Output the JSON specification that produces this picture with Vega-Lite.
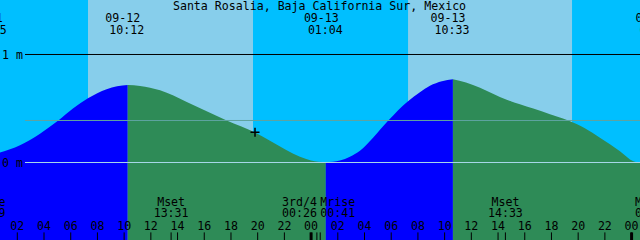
{
  "$schema": "https://vega.github.io/schema/vega-lite/v6.json",
  "width": 640,
  "height": 240,
  "autosize": {"type": "none"},
  "padding": 0,
  "background": "#00BFFF",
  "config": {
    "view": {"stroke": null, "fill": "#00BFFF"},
    "text": {"font": "DejaVu Sans Mono", "fontSize": 11.6, "color": "#000000"}
  },
  "datasets": {
    "days": [
      {"h": 7.294, "h2": 19.65},
      {"h": 31.26, "h2": 43.54}
    ],
    "tide": [
      {"seg": "r1", "phase": "rising", "h": 0.704, "m": 0.093},
      {"seg": "r1", "phase": "rising", "h": 2.2, "m": 0.16},
      {"seg": "r1", "phase": "rising", "h": 3.7, "m": 0.267},
      {"seg": "r1", "phase": "rising", "h": 5.07, "m": 0.389},
      {"seg": "r1", "phase": "rising", "h": 6.19, "m": 0.503},
      {"seg": "r1", "phase": "rising", "h": 7.29, "m": 0.594},
      {"seg": "r1", "phase": "rising", "h": 8.69, "m": 0.678},
      {"seg": "r1", "phase": "rising", "h": 9.47, "m": 0.705},
      {"seg": "r1", "phase": "rising", "h": 10.27, "m": 0.718},
      {"seg": "f1", "phase": "falling", "h": 10.27, "m": 0.718},
      {"seg": "f1", "phase": "falling", "h": 11.19, "m": 0.709},
      {"seg": "f1", "phase": "falling", "h": 12.69, "m": 0.669},
      {"seg": "f1", "phase": "falling", "h": 14.69, "m": 0.561},
      {"seg": "f1", "phase": "falling", "h": 16.06, "m": 0.482},
      {"seg": "f1", "phase": "falling", "h": 17.68, "m": 0.389},
      {"seg": "f1", "phase": "falling", "h": 19.8, "m": 0.278},
      {"seg": "f1", "phase": "falling", "h": 20.92, "m": 0.202},
      {"seg": "f1", "phase": "falling", "h": 22.17, "m": 0.114},
      {"seg": "f1", "phase": "falling", "h": 23.17, "m": 0.053},
      {"seg": "f1", "phase": "falling", "h": 23.99, "m": 0.019},
      {"seg": "f1", "phase": "falling", "h": 25.1, "m": 0.002},
      {"seg": "r2", "phase": "rising", "h": 25.1, "m": 0.002},
      {"seg": "r2", "phase": "rising", "h": 26.16, "m": 0.019},
      {"seg": "r2", "phase": "rising", "h": 26.91, "m": 0.054},
      {"seg": "r2", "phase": "rising", "h": 27.66, "m": 0.109},
      {"seg": "r2", "phase": "rising", "h": 28.64, "m": 0.23},
      {"seg": "r2", "phase": "rising", "h": 29.78, "m": 0.389},
      {"seg": "r2", "phase": "rising", "h": 31.26, "m": 0.568},
      {"seg": "r2", "phase": "rising", "h": 32.15, "m": 0.651},
      {"seg": "r2", "phase": "rising", "h": 32.9, "m": 0.711},
      {"seg": "r2", "phase": "rising", "h": 33.8, "m": 0.753},
      {"seg": "r2", "phase": "rising", "h": 34.62, "m": 0.771},
      {"seg": "f2", "phase": "falling", "h": 34.62, "m": 0.771},
      {"seg": "f2", "phase": "falling", "h": 35.6, "m": 0.741},
      {"seg": "f2", "phase": "falling", "h": 36.65, "m": 0.693},
      {"seg": "f2", "phase": "falling", "h": 37.62, "m": 0.637},
      {"seg": "f2", "phase": "falling", "h": 38.65, "m": 0.581},
      {"seg": "f2", "phase": "falling", "h": 39.64, "m": 0.54},
      {"seg": "f2", "phase": "falling", "h": 40.64, "m": 0.5},
      {"seg": "f2", "phase": "falling", "h": 41.89, "m": 0.447},
      {"seg": "f2", "phase": "falling", "h": 43.26, "m": 0.389},
      {"seg": "f2", "phase": "falling", "h": 44.5, "m": 0.318},
      {"seg": "f2", "phase": "falling", "h": 45.63, "m": 0.23},
      {"seg": "f2", "phase": "falling", "h": 47.13, "m": 0.105},
      {"seg": "f2", "phase": "falling", "h": 48.13, "m": 0.012},
      {"seg": "f2", "phase": "falling", "h": 48.63, "m": -0.002}
    ],
    "levels": [
      {"kind": "top", "h": 2.576, "h2": 48.63, "m": 1},
      {"kind": "msl", "h": 2.576, "h2": 48.63, "m": 0.389},
      {"kind": "datum", "h": 2.576, "h2": 48.63, "m": 0}
    ],
    "levelLabels": [
      {"m": 1, "label": "1 m"},
      {"m": 0, "label": "0 m"}
    ],
    "hilo": [
      {"h": -0.1, "date": "09-11", "time": "23:55"},
      {"h": 10.2, "date": "09-12", "time": "10:12"},
      {"h": 25.067, "date": "09-13", "time": "01:04"},
      {"h": 34.55, "date": "09-13", "time": "10:33"},
      {"h": 49.9, "date": "09-14", "time": "01:52"}
    ],
    "moon": [
      {"h": -0.183, "ev": "Mrise", "time": "23:49"},
      {"h": 13.517, "ev": "Mset", "time": "13:31"},
      {"h": 24.433, "ev": "3rd/4", "time": "00:26"},
      {"h": 24.683, "ev": "Mrise", "time": "00:41"},
      {"h": 38.55, "ev": "Mset", "time": "14:33"},
      {"h": 49.57, "ev": "Mrise", "time": "01:34"}
    ],
    "hours": [
      {"h": 2, "lab": "02"}, {"h": 4, "lab": "04"}, {"h": 6, "lab": "06"}, {"h": 8, "lab": "08"},
      {"h": 10, "lab": "10"}, {"h": 12, "lab": "12"}, {"h": 14, "lab": "14"}, {"h": 16, "lab": "16"},
      {"h": 18, "lab": "18"}, {"h": 20, "lab": "20"}, {"h": 22, "lab": "22"}, {"h": 24, "lab": "00"},
      {"h": 26, "lab": "02"}, {"h": 28, "lab": "04"}, {"h": 30, "lab": "06"}, {"h": 32, "lab": "08"},
      {"h": 34, "lab": "10"}, {"h": 36, "lab": "12"}, {"h": 38, "lab": "14"}, {"h": 40, "lab": "16"},
      {"h": 42, "lab": "18"}, {"h": 44, "lab": "20"}, {"h": 46, "lab": "22"}, {"h": 48, "lab": "00"}
    ],
    "now": [
      {"h": 19.8, "m": 0.281}
    ],
    "titleText": [
      {"label": "Santa Rosalia, Baja California Sur, Mexico"}
    ]
  },
  "layer": [
    {
      "data": {"name": "days"},
      "mark": {"type": "rect", "color": "#87CEEB"},
      "encoding": {
        "x": {"field": "h", "type": "quantitative", "scale": {"domain": [0.704, 48.63], "nice": false, "zero": false}, "axis": null},
        "x2": {"field": "h2"}
      }
    },
    {
      "data": {"name": "tide"},
      "mark": {"type": "area", "interpolate": "monotone", "clip": true},
      "encoding": {
        "x": {"field": "h", "type": "quantitative", "scale": {"domain": [0.704, 48.63], "nice": false, "zero": false}, "axis": null},
        "y": {"field": "m", "type": "quantitative", "stack": null, "scale": {"domain": [-0.7176, 1.5046], "nice": false, "zero": false}, "axis": null},
        "y2": {"datum": -0.7222},
        "color": {"field": "phase", "type": "nominal", "scale": {"domain": ["rising", "falling"], "range": ["#0000FF", "#2E8B57"]}, "legend": null},
        "detail": {"field": "seg"}
      }
    },
    {
      "data": {"name": "levels"},
      "mark": {"type": "rule", "strokeWidth": 1},
      "encoding": {
        "x": {"field": "h", "type": "quantitative", "scale": {"domain": [0.704, 48.63], "nice": false, "zero": false}, "axis": null},
        "x2": {"field": "h2"},
        "y": {"field": "m", "type": "quantitative", "scale": {"domain": [-0.7176, 1.5046], "nice": false, "zero": false}, "axis": null},
        "stroke": {"field": "kind", "type": "nominal", "scale": {"domain": ["top", "msl", "datum"], "range": ["#000000", "#5FA3A0", "#A8D8EA"]}, "legend": null}
      }
    },
    {
      "data": {"name": "levelLabels"},
      "mark": {"type": "text", "align": "left", "baseline": "alphabetic", "dy": 4.3},
      "encoding": {
        "x": {"datum": 0.85, "type": "quantitative", "scale": {"domain": [0.704, 48.63], "nice": false, "zero": false}, "axis": null},
        "y": {"field": "m", "type": "quantitative", "scale": {"domain": [-0.7176, 1.5046], "nice": false, "zero": false}, "axis": null},
        "text": {"field": "label"}
      }
    },
    {
      "data": {"name": "titleText"},
      "mark": {"type": "text", "align": "center", "baseline": "alphabetic"},
      "encoding": {
        "x": {"datum": 24.63, "type": "quantitative", "scale": {"domain": [0.704, 48.63], "nice": false, "zero": false}, "axis": null},
        "y": {"datum": 1.41, "type": "quantitative", "scale": {"domain": [-0.7176, 1.5046], "nice": false, "zero": false}, "axis": null},
        "text": {"field": "label"}
      }
    },
    {
      "data": {"name": "hilo"},
      "mark": {"type": "text", "align": "center", "baseline": "alphabetic", "dx": -4, "clip": true},
      "encoding": {
        "x": {"field": "h", "type": "quantitative", "scale": {"domain": [0.704, 48.63], "nice": false, "zero": false}, "axis": null},
        "y": {"datum": 1.2991, "type": "quantitative", "scale": {"domain": [-0.7176, 1.5046], "nice": false, "zero": false}, "axis": null},
        "text": {"field": "date"}
      }
    },
    {
      "data": {"name": "hilo"},
      "mark": {"type": "text", "align": "center", "baseline": "alphabetic", "clip": true},
      "encoding": {
        "x": {"field": "h", "type": "quantitative", "scale": {"domain": [0.704, 48.63], "nice": false, "zero": false}, "axis": null},
        "y": {"datum": 1.188, "type": "quantitative", "scale": {"domain": [-0.7176, 1.5046], "nice": false, "zero": false}, "axis": null},
        "text": {"field": "time"}
      }
    },
    {
      "data": {"name": "moon"},
      "transform": [{"filter": "datum.ev != '3rd/4' && datum.time != '00:41'"}],
      "mark": {"type": "text", "align": "center", "baseline": "alphabetic", "clip": true},
      "encoding": {
        "x": {"field": "h", "type": "quantitative", "scale": {"domain": [0.704, 48.63], "nice": false, "zero": false}, "axis": null},
        "y": {"datum": -0.4046, "type": "quantitative", "scale": {"domain": [-0.7176, 1.5046], "nice": false, "zero": false}, "axis": null},
        "text": {"field": "ev"}
      }
    },
    {
      "data": {"name": "moon"},
      "transform": [{"filter": "datum.ev != '3rd/4' && datum.time != '00:41'"}],
      "mark": {"type": "text", "align": "center", "baseline": "alphabetic", "clip": true},
      "encoding": {
        "x": {"field": "h", "type": "quantitative", "scale": {"domain": [0.704, 48.63], "nice": false, "zero": false}, "axis": null},
        "y": {"datum": -0.509, "type": "quantitative", "scale": {"domain": [-0.7176, 1.5046], "nice": false, "zero": false}, "axis": null},
        "text": {"field": "time"}
      }
    },
    {
      "data": {"name": "moon"},
      "transform": [{"filter": "datum.ev == '3rd/4'"}],
      "mark": {"type": "text", "align": "right", "baseline": "alphabetic", "clip": true},
      "encoding": {
        "x": {"field": "h", "type": "quantitative", "scale": {"domain": [0.704, 48.63], "nice": false, "zero": false}, "axis": null},
        "y": {"datum": -0.4046, "type": "quantitative", "scale": {"domain": [-0.7176, 1.5046], "nice": false, "zero": false}, "axis": null},
        "text": {"field": "ev"}
      }
    },
    {
      "data": {"name": "moon"},
      "transform": [{"filter": "datum.ev == '3rd/4'"}],
      "mark": {"type": "text", "align": "right", "baseline": "alphabetic", "clip": true},
      "encoding": {
        "x": {"field": "h", "type": "quantitative", "scale": {"domain": [0.704, 48.63], "nice": false, "zero": false}, "axis": null},
        "y": {"datum": -0.509, "type": "quantitative", "scale": {"domain": [-0.7176, 1.5046], "nice": false, "zero": false}, "axis": null},
        "text": {"field": "time"}
      }
    },
    {
      "data": {"name": "moon"},
      "transform": [{"filter": "datum.time == '00:41'"}],
      "mark": {"type": "text", "align": "left", "baseline": "alphabetic", "clip": true},
      "encoding": {
        "x": {"field": "h", "type": "quantitative", "scale": {"domain": [0.704, 48.63], "nice": false, "zero": false}, "axis": null},
        "y": {"datum": -0.4046, "type": "quantitative", "scale": {"domain": [-0.7176, 1.5046], "nice": false, "zero": false}, "axis": null},
        "text": {"field": "ev"}
      }
    },
    {
      "data": {"name": "moon"},
      "transform": [{"filter": "datum.time == '00:41'"}],
      "mark": {"type": "text", "align": "left", "baseline": "alphabetic", "clip": true},
      "encoding": {
        "x": {"field": "h", "type": "quantitative", "scale": {"domain": [0.704, 48.63], "nice": false, "zero": false}, "axis": null},
        "y": {"datum": -0.509, "type": "quantitative", "scale": {"domain": [-0.7176, 1.5046], "nice": false, "zero": false}, "axis": null},
        "text": {"field": "time"}
      }
    },
    {
      "data": {"name": "moon"},
      "mark": {"type": "rule", "strokeWidth": 1, "color": "#000000", "clip": true},
      "encoding": {
        "x": {"field": "h", "type": "quantitative", "scale": {"domain": [0.704, 48.63], "nice": false, "zero": false}, "axis": null},
        "y": {"datum": -0.6472, "type": "quantitative", "scale": {"domain": [-0.7176, 1.5046], "nice": false, "zero": false}, "axis": null},
        "y2": {"datum": -0.7222}
      }
    },
    {
      "data": {"name": "hours"},
      "mark": {"type": "rule", "strokeWidth": 1, "color": "#000000", "clip": true},
      "encoding": {
        "x": {"field": "h", "type": "quantitative", "scale": {"domain": [0.704, 48.63], "nice": false, "zero": false}, "axis": null},
        "y": {"datum": -0.6472, "type": "quantitative", "scale": {"domain": [-0.7176, 1.5046], "nice": false, "zero": false}, "axis": null},
        "y2": {"datum": -0.7222}
      }
    },
    {
      "data": {"name": "hours"},
      "transform": [{"filter": "datum.lab == '00'"}],
      "mark": {"type": "rule", "strokeWidth": 3, "color": "#000000", "clip": true},
      "encoding": {
        "x": {"field": "h", "type": "quantitative", "scale": {"domain": [0.704, 48.63], "nice": false, "zero": false}, "axis": null},
        "y": {"datum": -0.6472, "type": "quantitative", "scale": {"domain": [-0.7176, 1.5046], "nice": false, "zero": false}, "axis": null},
        "y2": {"datum": -0.7222}
      }
    },
    {
      "data": {"name": "hours"},
      "mark": {"type": "text", "align": "center", "baseline": "alphabetic", "clip": true},
      "encoding": {
        "x": {"field": "h", "type": "quantitative", "scale": {"domain": [0.704, 48.63], "nice": false, "zero": false}, "axis": null},
        "y": {"datum": -0.6204, "type": "quantitative", "scale": {"domain": [-0.7176, 1.5046], "nice": false, "zero": false}, "axis": null},
        "text": {"field": "lab"}
      }
    },
    {
      "data": {"name": "now"},
      "mark": {"type": "point", "shape": "M-1,0L1,0M0,-1L0,1", "size": 81, "filled": false, "stroke": "#000000", "strokeWidth": 1.5, "opacity": 1},
      "encoding": {
        "x": {"field": "h", "type": "quantitative", "scale": {"domain": [0.704, 48.63], "nice": false, "zero": false}, "axis": null},
        "y": {"field": "m", "type": "quantitative", "scale": {"domain": [-0.7176, 1.5046], "nice": false, "zero": false}, "axis": null}
      }
    }
  ]
}
